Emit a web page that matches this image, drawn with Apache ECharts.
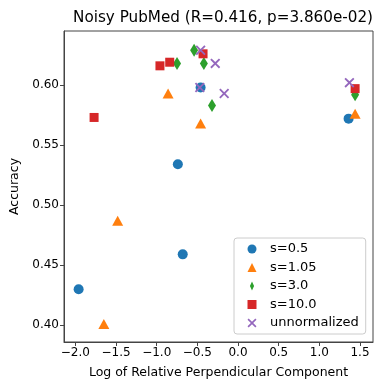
<!DOCTYPE html>
<html>
<head>
<meta charset="utf-8">
<script src="https://cdn.jsdelivr.net/npm/echarts@6/dist/echarts.min.js"></script>
<style>
html, body { margin: 0; padding: 0; background: #fff; }
#mybox { width: 390px; height: 390px; }
</style>
</head>
<body>
<div id="mybox"></div>
<script>
// data: [log rel. perpendicular component, accuracy]
var s05 = [[-1.96, 0.430], [-0.68, 0.459], [-0.74, 0.534], [-0.46, 0.598], [1.36, 0.572]];
var s105 = [[-1.65, 0.401], [-1.48, 0.487], [-0.86, 0.593], [-0.46, 0.568], [1.44, 0.576]];
var s30 = [[-0.54, 0.629], [-0.75, 0.618], [-0.42, 0.618], [-0.32, 0.583], [1.44, 0.592]];
var s100 = [[-1.77, 0.573], [-0.96, 0.616], [-0.84, 0.619], [-0.43, 0.626], [1.44, 0.597]];
var unnorm = [[-0.46, 0.629], [-0.28, 0.618], [-0.47, 0.598], [-0.17, 0.593], [1.37, 0.602]];

var xTicks = [-2.0, -1.5, -1.0, -0.5, 0.0, 0.5, 1.0, 1.5];
var yTicks = [0.40, 0.45, 0.50, 0.55, 0.60];

var FONT = 'DejaVu Sans';
var crossPath = 'path://M0,1.3L1.3,0L5,3.7L8.7,0L10,1.3L6.3,5L10,8.7L8.7,10L5,6.3L1.3,10L0,8.7L3.7,5Z';
// legend diamond: narrow shape, padded with empty subpaths so it is not stretched
var diamondIcon = 'path://M5,0L7.3,5L5,10L2.7,5Z M0,5L0.01,5Z M10,5L9.99,5Z';

var mycharts = echarts.init(document.getElementById('mybox'));

var optionObj = {
    animation: false,
    backgroundColor: '#fff',
    title: {
        text: 'Noisy PubMed (R=0.416, p=3.860e-02)',
        left: 218,
        textAlign: 'center',
        top: 6,
        textStyle: { fontFamily: FONT, fontSize: 15.2, fontWeight: 'normal', color: '#000' }
    },
    grid: {
        left: 64, right: 17, top: 31, bottom: 48,
        show: true, borderColor: '#444', borderWidth: 1
    },
    legend: {
        orient: 'vertical',
        left: 234,
        top: 238,
        padding: [3.5, 7, 3.5, 13.5],
        itemGap: 3.5,
        itemWidth: 9,
        itemHeight: 9,
        backgroundColor: '#fff',
        borderColor: '#ccc',
        borderWidth: 1,
        borderRadius: 3,
        textStyle: { fontFamily: FONT, fontSize: 13, lineHeight: 15, color: '#000', padding: [0, 0, 0, 8.5] },
        data: [
            { name: 's=0.5', icon: 'circle' },
            { name: 's=1.05', icon: 'triangle' },
            { name: 's=3.0', icon: diamondIcon },
            { name: 's=10.0', icon: 'rect' },
            { name: 'unnormalized', icon: crossPath }
        ]
    },
    xAxis: {
        type: 'value',
        min: -2.14,
        max: 1.66,
        name: 'Log of Relative Perpendicular Component',
        nameLocation: 'middle',
        nameGap: 24,
        nameTextStyle: { fontFamily: FONT, fontSize: 12.5, color: '#000' },
        splitLine: { show: false },
        axisLine: { show: true, onZero: false, lineStyle: { color: '#444' } },
        axisTick: { show: true, length: 4, customValues: xTicks, lineStyle: { color: '#444' } },
        axisLabel: {
            customValues: xTicks,
            fontFamily: FONT, fontSize: 12, color: '#000', margin: 5,
            formatter: function (v) { return v.toFixed(1).replace('-', '\u2212'); }
        }
    },
    yAxis: {
        type: 'value',
        min: 0.386,
        max: 0.645,
        name: 'Accuracy',
        nameLocation: 'middle',
        nameGap: 40,
        nameTextStyle: { fontFamily: FONT, fontSize: 12.5, color: '#000' },
        splitLine: { show: false },
        axisLine: { show: true, onZero: false, lineStyle: { color: '#444' } },
        axisTick: { show: true, length: 4, customValues: yTicks, lineStyle: { color: '#444' } },
        axisLabel: {
            customValues: yTicks,
            fontFamily: FONT, fontSize: 12, color: '#000', margin: 5,
            formatter: function (v) { return v.toFixed(2); }
        }
    },
    series: [
        { name: 's=0.5', type: 'scatter', symbol: 'circle', symbolSize: 10,
          itemStyle: { color: '#1f77b4', opacity: 1 }, data: s05 },
        { name: 's=1.05', type: 'scatter', symbol: 'triangle', symbolSize: [11, 10],
          itemStyle: { color: '#ff7f0e', opacity: 1 }, data: s105 },
        { name: 's=3.0', type: 'scatter', symbol: 'diamond', symbolSize: [8, 13],
          itemStyle: { color: '#2ca02c', opacity: 1 }, data: s30 },
        { name: 's=10.0', type: 'scatter', symbol: 'rect', symbolSize: 9,
          itemStyle: { color: '#d62728', opacity: 1 }, data: s100 },
        { name: 'unnormalized', type: 'scatter', symbol: crossPath, symbolSize: 10,
          itemStyle: { color: '#9467bd', opacity: 1 }, data: unnorm }
    ]
};

mycharts.setOption(optionObj);
</script>
</body>
</html>
